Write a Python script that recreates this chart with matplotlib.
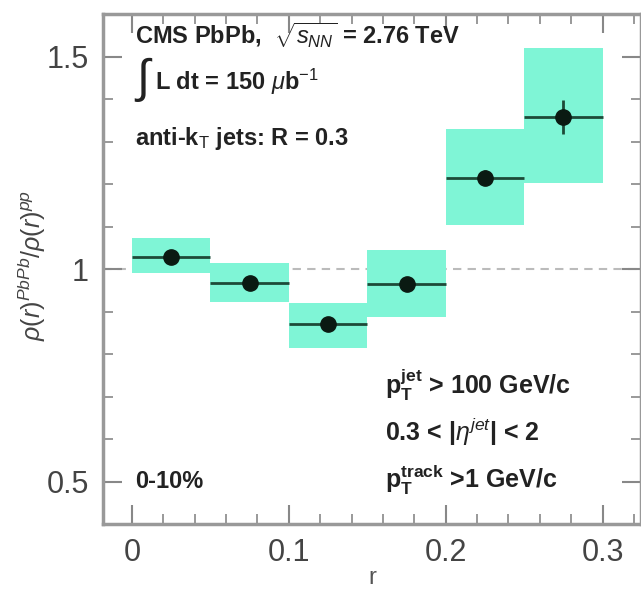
import matplotlib
matplotlib.use("Agg")
import matplotlib.pyplot as plt
from matplotlib.patches import Rectangle
from matplotlib.ticker import MultipleLocator

plt.rcParams['font.family'] = ['Liberation Sans', 'DejaVu Sans']
plt.rcParams['mathtext.fontset'] = 'custom'
plt.rcParams['mathtext.rm'] = 'Liberation Sans'
plt.rcParams['mathtext.it'] = 'Liberation Sans:italic'
plt.rcParams['mathtext.bf'] = 'Liberation Sans:bold'

# Data
r_low = [0.00, 0.05, 0.10, 0.15, 0.20, 0.25]
r_high = [0.05, 0.10, 0.15, 0.20, 0.25, 0.30]
ratio = [1.028, 0.967, 0.871, 0.965, 1.215, 1.357]
stat_err = [0.008, 0.008, 0.008, 0.010, 0.018, 0.040]
sys_low = [0.991, 0.923, 0.815, 0.888, 1.103, 1.203]
sys_high = [1.072, 1.014, 0.921, 1.044, 1.329, 1.519]
xticks = [0, 0.1, 0.2, 0.3]
xticklabels = ["0", "0.1", "0.2", "0.3"]
yticks = [0.5, 1.0, 1.5]
yticklabels = ["0.5", "1", "1.5"]

fig = plt.figure(figsize=(6.41, 5.91), dpi=100)
ax = fig.add_axes([103/641, 1-524/591, 1-103/641, (524-14)/591])
ax.set_xlim(-0.0185, 0.3245)
ax.set_ylim(0.40, 1.60)

box_color = '#7ff5d6'
for lo, hi, yl, yh in zip(r_low, r_high, sys_low, sys_high):
    ax.add_patch(Rectangle((lo, yl), hi-lo, yh-yl, facecolor=box_color,
                           edgecolor='none', zorder=2))

ax.axhline(1.0, color='#bbbbbb', lw=1.5, ls=(0, (4, 3)), zorder=1)

xc = [(a+b)/2 for a, b in zip(r_low, r_high)]
xerr = [(b-a)/2 for a, b in zip(r_low, r_high)]
ax.errorbar(xc, ratio, xerr=xerr, yerr=stat_err, fmt='o', color='#0a1a12',
            ecolor='#1d4a38', ms=11, elinewidth=2.0, capsize=0, zorder=4)

ax.set_xticks(xticks)
ax.set_xticklabels(xticklabels)
ax.set_yticks(yticks)
ax.set_yticklabels(yticklabels)
ax.xaxis.set_minor_locator(MultipleLocator(0.02))
ax.yaxis.set_minor_locator(MultipleLocator(0.1))
ax.tick_params(which='both', direction='in', top=True, right=True,
               color='#888888', labelcolor='#444444')
ax.tick_params(which='major', length=14, width=1.5, labelsize=22, pad=10)
ax.tick_params(which='minor', length=7, width=1.2)
for s in ax.spines.values():
    s.set_color('#999999')
    s.set_linewidth(2.5)

fig.text(372/641, 1-578/591, 'r', fontsize=17, color='#555555',
         ha='center', va='center')
fig.text(0.05, 1-265/591, r'$\rho(r)^{PbPb}/\rho(r)^{pp}$', rotation=90,
         fontsize=18, color='#444444', ha='center', va='center')

tc = '#222222'
fs = 17
fig.text(135/641, 1-35/591, r'CMS PbPb,  $\sqrt{s_{NN}}$ = 2.76 TeV', fontsize=fs,
         color=tc, fontweight='bold', va='center')
fig.text(134/641, 1-80/591, r'$\int$', fontsize=34, color=tc, va='center')
fig.text(155/641, 1-82/591, r'L dt = 150 $\mu$b$^{-1}$', fontsize=fs,
         color=tc, fontweight='bold', va='center')
fig.text(135/641, 1-138/591, r'anti-k$_\mathrm{T}$ jets: R = 0.3', fontsize=fs,
         color=tc, fontweight='bold', va='center')
fig.text(385/641, 1-385/591, r'$\mathbf{p_T^{jet}}$ > 100 GeV/c', fontsize=fs+1,
         color=tc, fontweight='bold', va='center')
fig.text(385/641, 1-432/591, r'0.3 < |$\eta^{jet}$| < 2', fontsize=fs+1,
         color=tc, fontweight='bold', va='center')
fig.text(385/641, 1-480/591, r'$\mathbf{p_T^{track}}$ >1 GeV/c', fontsize=fs+1,
         color=tc, fontweight='bold', va='center')
fig.text(135/641, 1-482/591, '0-10%', fontsize=fs, color=tc,
         fontweight='bold', va='center')

fig.savefig('out.png', dpi=100, facecolor='white')
